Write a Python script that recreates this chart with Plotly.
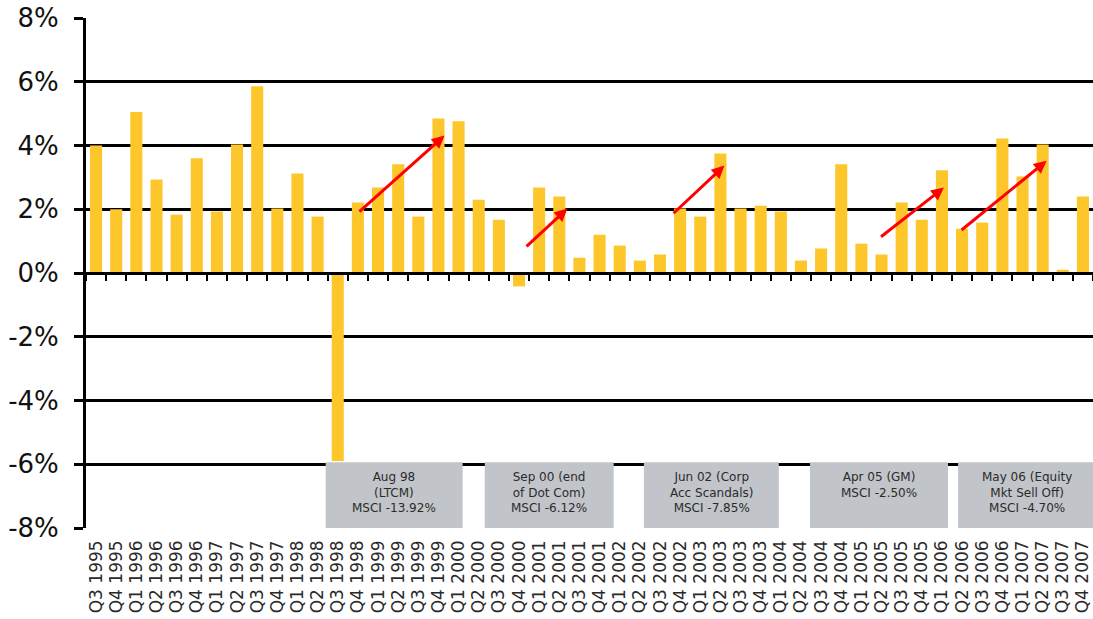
import plotly.graph_objects as go

# Quarterly returns (%)
quarters = [
    "Q3 1995", "Q4 1995",
    "Q1 1996", "Q2 1996", "Q3 1996", "Q4 1996",
    "Q1 1997", "Q2 1997", "Q3 1997", "Q4 1997",
    "Q1 1998", "Q2 1998", "Q3 1998", "Q4 1998",
    "Q1 1999", "Q2 1999", "Q3 1999", "Q4 1999",
    "Q1 2000", "Q2 2000", "Q3 2000", "Q4 2000",
    "Q1 2001", "Q2 2001", "Q3 2001", "Q4 2001",
    "Q1 2002", "Q2 2002", "Q3 2002", "Q4 2002",
    "Q1 2003", "Q2 2003", "Q3 2003", "Q4 2003",
    "Q1 2004", "Q2 2004", "Q3 2004", "Q4 2004",
    "Q1 2005", "Q2 2005", "Q3 2005", "Q4 2005",
    "Q1 2006", "Q2 2006", "Q3 2006", "Q4 2006",
    "Q1 2007", "Q2 2007", "Q3 2007", "Q4 2007",
]
returns = [
    4.00, 2.00,
    5.05, 2.93, 1.83, 3.60,
    1.93, 4.03, 5.86, 2.02,
    3.12, 1.77, -5.90, 2.21,
    2.68, 3.41, 1.77, 4.85,
    4.76, 2.30, 1.67, -0.42,
    2.68, 2.40, 0.48, 1.20,
    0.86, 0.39, 0.58, 2.02,
    1.77, 3.75, 2.02, 2.11,
    1.93, 0.39, 0.77, 3.41,
    0.92, 0.58, 2.21, 1.67,
    3.22, 1.39, 1.58, 4.22,
    3.03, 4.03, 0.10, 2.40,
]

# Recovery arrows after each sell-off: (start index, start %, end index, end %)
arrow_x0 = [13.0, 21.3, 28.6, 38.9, 42.9]
arrow_y0 = [1.88, 0.79, 1.83, 1.10, 1.31]
arrow_x1 = [17.3, 23.4, 31.2, 42.1, 47.2]
arrow_y1 = [4.31, 2.02, 3.37, 2.68, 3.52]

# Market events shown in grey boxes: (left index, right index, text)
event_x0 = [11.4, 19.3, 27.2, 35.45, 42.8]
event_x1 = [18.2, 25.7, 33.9, 42.3, 49.6]
event_text = [
    "Aug 98<br>(LTCM)<br>MSCI -13.92%",
    "Sep 00 (end<br>of Dot Com)<br>MSCI -6.12%",
    "Jun 02 (Corp<br>Acc Scandals)<br>MSCI -7.85%",
    "Apr 05 (GM)<br>MSCI -2.50%",
    "May 06 (Equity<br>Mkt Sell Off)<br>MSCI -4.70%",
]

y_ticks = [-8, -6, -4, -2, 0, 2, 4, 6, 8]
y_ticktext = ["-8%", "-6%", "-4%", "-2%", "0%", "2%", "4%", "6%", "8%"]

FONT = "DejaVu Sans"

fig = go.Figure()
fig.add_trace(go.Bar(
    x=quarters, y=returns,
    marker=dict(color="#fdc72c", line=dict(width=0)),
    showlegend=False, hoverinfo="x+y",
))
# helper trace so the zero-line axis with boundary ticks is drawn
fig.add_trace(go.Scatter(
    x=[None], y=[None], xaxis="x2", yaxis="y",
    showlegend=False, hoverinfo="skip",
))

shapes = []
annotations = []
for x0, x1, txt in zip(event_x0, event_x1, event_text):
    shapes.append(dict(
        type="rect", xref="x", yref="y", layer="above",
        x0=x0, x1=x1, y0=-8.0, y1=-5.94,
        fillcolor="#c1c4c9", line=dict(width=0),
    ))
    annotations.append(dict(
        xref="x", yref="y", x=(x0 + x1) / 2, y=-6.12,
        xanchor="center", yanchor="top", text=txt, showarrow=False,
        font=dict(family=FONT, size=12, color="#2b2b2b"), align="center",
    ))

for xa, ya, xb, yb in zip(arrow_x0, arrow_y0, arrow_x1, arrow_y1):
    annotations.append(dict(
        xref="x", yref="y", axref="x", ayref="y",
        x=xb, y=yb, ax=xa, ay=ya, text="",
        showarrow=True, arrowhead=2, arrowsize=0.85, arrowwidth=3,
        arrowcolor="#ff0000", standoff=0, startstandoff=0,
    ))

fig.update_layout(
    width=1093, height=619,
    margin=dict(l=86, r=0, t=18, b=91),
    paper_bgcolor="white", plot_bgcolor="white",
    bargap=0.4,
    font=dict(family=FONT, color="#111111"),
    xaxis=dict(
        type="category", categoryorder="array", categoryarray=quarters,
        range=[-0.5, len(quarters) - 0.5],
        tickangle=-90, ticks="", showline=False, showgrid=False,
        tickfont=dict(family=FONT, size=17, color="#2a2a2a"),
        ticklabelstandoff=8,
    ),
    xaxis2=dict(
        overlaying="x", anchor="free", position=0.5,
        range=[-0.5, len(quarters) - 0.5], tick0=-0.5, dtick=1,
        ticks="outside", ticklen=6, tickwidth=2, tickcolor="black",
        showticklabels=False, showline=True, linewidth=3, linecolor="black",
        showgrid=False, zeroline=False,
    ),
    yaxis=dict(
        range=[-8, 8], tickvals=y_ticks, ticktext=y_ticktext,
        showgrid=True, gridcolor="black", gridwidth=3,
        zeroline=False,
        showline=True, linewidth=3, linecolor="black",
        ticks="outside", ticklen=9, tickwidth=3, tickcolor="black",
        tickfont=dict(family=FONT, size=26, color="#111111"),
        ticklabelstandoff=10,
    ),
    shapes=shapes,
    annotations=annotations,
)

fig.write_html("out.html")
